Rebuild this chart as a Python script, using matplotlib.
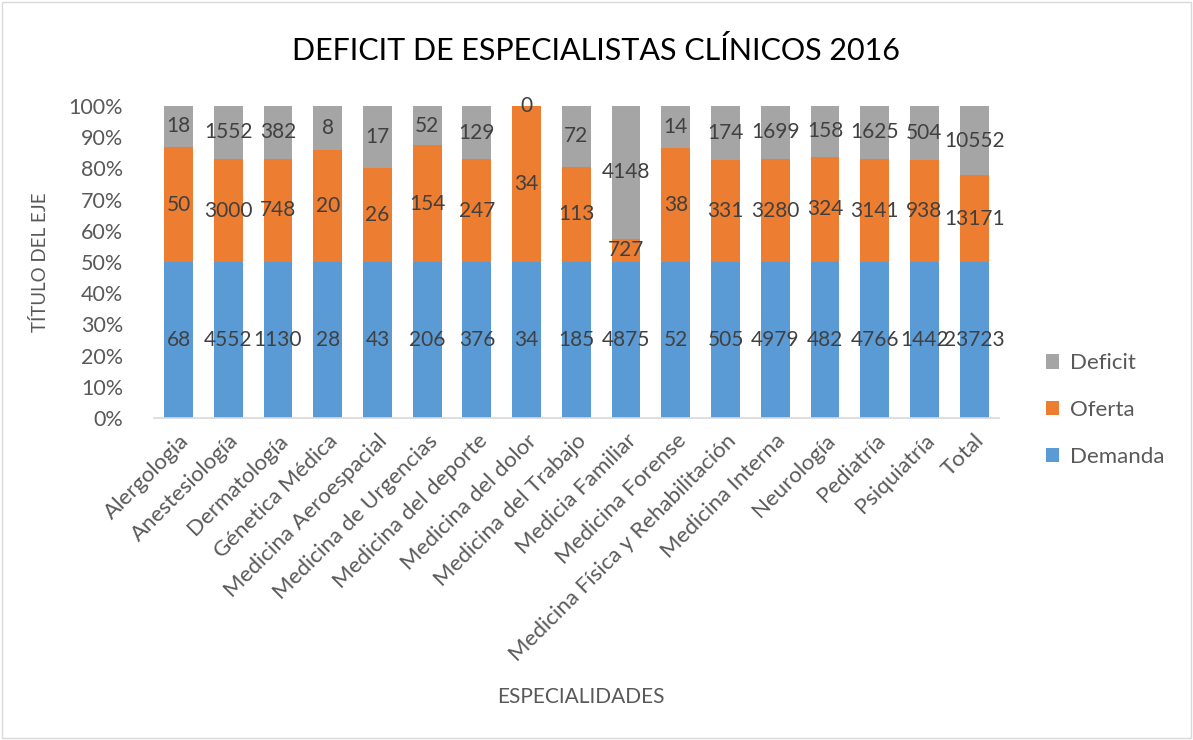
import matplotlib.pyplot as plt
import numpy as np
from matplotlib.patches import Rectangle

plt.rcParams['font.family'] = ['Lato', 'DejaVu Sans']

especialidades = ['Alergologia', 'Anestesiología', 'Dermatología', 'Génetica Médica',
                  'Medicina Aeroespacial', 'Medicina de Urgencias', 'Medicina del deporte',
                  'Medicina del dolor', 'Medicina del Trabajo', 'Medicia Familiar',
                  'Medicina Forense', 'Medicina Física y Rehabilitación', 'Medicina Interna',
                  'Neurología', 'Pediatría', 'Psiquiatría', 'Total']
demanda = [68, 4552, 1130, 28, 43, 206, 376, 34, 185, 4875, 52, 505, 4979, 482, 4766, 1442, 23723]
oferta = [50, 3000, 748, 20, 26, 154, 247, 34, 113, 727, 38, 331, 3280, 324, 3141, 938, 13171]
deficit = [18, 1552, 382, 8, 17, 52, 129, 0, 72, 4148, 14, 174, 1699, 158, 1625, 504, 10552]

azul = '#5B9BD5'
naranja = '#ED7D31'
gris = '#A5A5A5'
texto = '#404040'

d = np.array(demanda, dtype=float)
o = np.array(oferta, dtype=float)
f = np.array(deficit, dtype=float)
tot = d + o + f
pd_ = d / tot * 100
po = o / tot * 100
pf = f / tot * 100

fig = plt.figure(figsize=(11.93, 7.4), dpi=100)
ax = fig.add_axes([0.1288, 0.435, 0.7086, 0.422])

x = np.arange(len(especialidades))
w = 0.58
b1 = ax.bar(x, pd_, w, color=azul, label='Demanda')
b2 = ax.bar(x, po, w, bottom=pd_, color=naranja, label='Oferta')
b3 = ax.bar(x, pf, w, bottom=pd_ + po, color=gris, label='Deficit')

# etiquetas centradas en cada segmento
for barras, vals in [(b1, demanda), (b2, oferta), (b3, deficit)]:
    ax.bar_label(barras, labels=[str(v) for v in vals], label_type='center',
                 fontsize=15, color=texto)

ax.set_xlim(-0.5, len(especialidades) - 0.5)
ax.set_ylim(0, 100)
ax.set_yticks(np.arange(0, 101, 10))
ax.set_yticklabels([f'{v}%' for v in range(0, 101, 10)])
ax.set_xticks(x)
ax.set_xticklabels(especialidades, rotation=45, ha='right', rotation_mode='anchor')
ax.tick_params(axis='both', length=0, labelsize=15.5, labelcolor='#595959')
ax.tick_params(axis='x', pad=9, labelsize=16)
ax.tick_params(axis='y', pad=22)
for s in ['top', 'right', 'left']:
    ax.spines[s].set_visible(False)
ax.spines['bottom'].set_color('#D9D9D9')
ax.spines['bottom'].set_linewidth(1.2)

ax.set_ylabel('TÍTULO DEL EJE', fontsize=13.5, color='#595959', labelpad=14)
fig.text(0.487, 0.058, 'ESPECIALIDADES', fontsize=15, color='#595959', ha='center', va='center')
fig.text(0.5, 0.932, 'DEFICIT DE ESPECIALISTAS CLÍNICOS 2016', fontsize=22, color='black',
         ha='center', va='center')

h, l = ax.get_legend_handles_labels()
fig.legend(h[::-1], l[::-1], loc='center left', bbox_to_anchor=(0.860, 0.446),
           frameon=False, fontsize=16, labelcolor='#595959', handlelength=0.6,
           handleheight=0.6, handletextpad=0.5, labelspacing=1.2)

fig.patches.append(Rectangle((0.002, 0.003), 0.996, 0.994, transform=fig.transFigure,
                             fill=False, edgecolor='#D9D9D9', linewidth=1))

fig.savefig('out.png', dpi=100)
